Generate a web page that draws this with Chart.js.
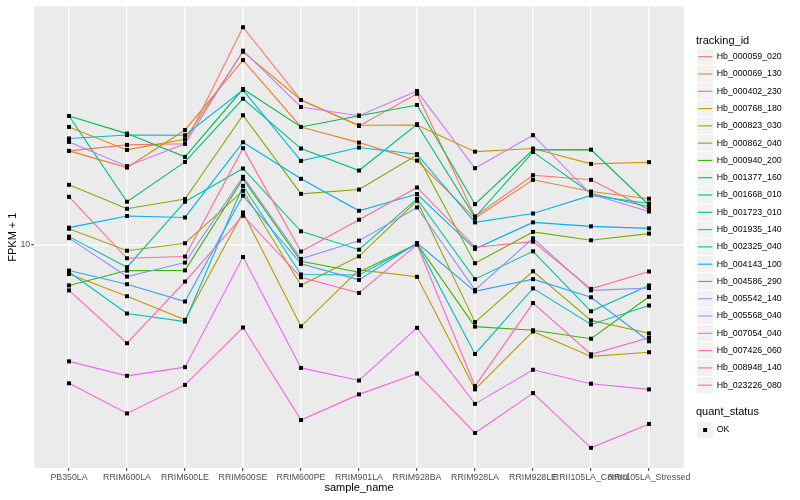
<!DOCTYPE html>
<html>
<head>
<meta charset="utf-8">
<script src="https://cdn.jsdelivr.net/npm/chart.js@4.4.1/dist/chart.umd.min.js"></script>
<style>
    html, body { margin: 0; padding: 0; background: #ffffff; }
    canvas { display: block; }
</style>
</head>
<body>
<canvas id="fpkmChart" width="800" height="500"></canvas>
<script>
var sample_names = ['PB350LA', 'RRIM600LA', 'RRIM600LE', 'RRIM600SE', 'RRIM600PE', 'RRIM901LA',
    'RRIM928BA', 'RRIM928LA', 'RRIM928LE', 'RRII105LA_Control', 'RRII105LA_Stressed'];

var tracking_ids = ['Hb_000059_020', 'Hb_000069_130', 'Hb_000402_230', 'Hb_000768_180', 'Hb_000823_030',
    'Hb_000862_040', 'Hb_000940_200', 'Hb_001377_160', 'Hb_001668_010', 'Hb_001723_010',
    'Hb_001935_140', 'Hb_002325_040', 'Hb_004143_100', 'Hb_004586_290', 'Hb_005542_140',
    'Hb_005568_040', 'Hb_007054_040', 'Hb_007426_060', 'Hb_008948_140', 'Hb_023226_080'];

var hue_colors = ['#F8766D', '#EA8331', '#D89000', '#C09B00', '#A3A500', '#7CAE00', '#39B600', '#00BB4E',
    '#00BF7D', '#00C1A3', '#00BFC4', '#00BAE0', '#00B0F6', '#35A2FF', '#9590FF', '#C77CFF',
    '#E76BF3', '#FA62DB', '#FF62BC', '#FF6C91'];

// FPKM + 1 per tracking_id, same order as sample_names
var hb_000059_020 = [16.00, 16.49, 16.59, 29.74, 20.65, 18.13, 21.31, 11.52, 14.16, 13.84, 11.91];
var hb_000069_130 = [16.00, 14.72, 17.77, 25.22, 18.04, 16.68, 15.24, 11.41, 13.84, 13.05, 12.59];
var hb_000402_230 = [18.04, 16.08, 16.96, 26.31, 20.65, 18.19, 18.22, 15.94, 16.19, 14.99, 15.12];
var hb_000768_180 = [8.63, 7.72, 6.86, 11.75, 6.64, 8.81, 8.51, 4.84, 6.47, 5.71, 5.83];
var hb_000823_030 = [10.83, 9.70, 10.07, 13.10, 8.16, 9.43, 12.46, 6.78, 8.75, 6.84, 6.41];
var hb_000862_040 = [13.50, 11.97, 12.57, 19.13, 12.90, 13.18, 15.68, 9.11, 10.66, 10.22, 10.57];
var hb_000940_200 = [8.15, 8.78, 8.79, 13.91, 9.20, 8.71, 10.05, 6.63, 6.51, 6.24, 7.70];
var hb_001377_160 = [19.06, 17.45, 15.53, 21.82, 18.04, 19.09, 20.14, 12.25, 16.08, 16.10, 12.20];
var hb_001668_010 = [19.06, 12.40, 15.14, 20.78, 16.19, 14.50, 18.29, 11.47, 15.92, 12.92, 12.09];
var hb_001723_010 = [10.41, 8.93, 12.40, 14.65, 10.69, 9.75, 12.59, 8.41, 9.67, 7.16, 8.15];
var hb_001935_140 = [8.72, 7.08, 6.80, 13.43, 8.61, 8.59, 10.03, 5.78, 8.03, 6.70, 7.37];
var hb_002325_040 = [17.03, 17.33, 17.31, 21.71, 15.22, 16.27, 15.74, 11.18, 11.69, 12.80, 12.29];
var hb_004143_100 = [10.89, 11.54, 11.46, 16.71, 13.91, 11.85, 12.89, 9.79, 11.18, 10.96, 10.85];
var hb_004586_290 = [8.78, 8.20, 7.52, 12.78, 9.08, 8.38, 10.08, 7.91, 8.41, 7.68, 6.16];
var hb_005542_140 = [10.33, 8.52, 9.14, 14.05, 9.31, 10.20, 12.05, 7.97, 10.32, 7.95, 8.04];
var hb_005568_040 = [16.74, 14.82, 16.59, 26.45, 19.94, 19.09, 21.60, 14.67, 17.31, 12.87, 11.81];
var hb_007054_040 = [5.57, 5.18, 5.41, 9.40, 5.39, 5.06, 6.59, 4.50, 5.34, 4.98, 4.84];
var hb_007426_060 = [4.99, 4.29, 4.95, 6.60, 4.15, 4.72, 5.24, 3.89, 4.75, 3.61, 4.07];
var hb_008948_140 = [7.95, 6.10, 8.31, 11.56, 8.49, 7.85, 10.00, 4.92, 7.46, 5.77, 6.27];
var hb_023226_080 = [12.71, 9.34, 9.42, 16.22, 9.66, 11.33, 13.32, 9.87, 10.15, 8.01, 8.74];

var series_values = [hb_000059_020, hb_000069_130, hb_000402_230, hb_000768_180, hb_000823_030,
    hb_000862_040, hb_000940_200, hb_001377_160, hb_001668_010, hb_001723_010,
    hb_001935_140, hb_002325_040, hb_004143_100, hb_004586_290, hb_005542_140,
    hb_005568_040, hb_007054_040, hb_007426_060, hb_008948_140, hb_023226_080];

var y_ticks = [10];
var y_min = 3.263;
var y_max = 33.04;

var quant_status = ['OK'];

var FONT = '"Liberation Sans", Arial, Helvetica, sans-serif';

function buildDatasets()
{
    var n = tracking_ids.length;
    return tracking_ids.map(function(id, i){
        return {
            label: id,
            data: series_values[i].map(function(v, j){ return {x: j, y: v}; }),
            borderColor: hue_colors[i],
            backgroundColor: hue_colors[i],
            borderWidth: 1.1,
            pointRadius: 0,
            pointHoverRadius: 0,
            tension: 0,
            fill: false,
            order: n - i
        };
    });
}

// grey panel + white page
var panelPlugin = {
    id: 'panel',
    beforeDraw: function(chart){
        var ctx = chart.ctx, a = chart.chartArea;
        ctx.save();
        ctx.fillStyle = '#FFFFFF';
        ctx.fillRect(0, 0, chart.width, chart.height);
        ctx.fillStyle = '#EBEBEB';
        ctx.fillRect(a.left, a.top, a.right - a.left, a.bottom - a.top);
        ctx.restore();
    }
};

// black square markers drawn above all lines
var pointsPlugin = {
    id: 'squares',
    afterDatasetsDraw: function(chart){
        var ctx = chart.ctx;
        ctx.save();
        ctx.fillStyle = '#000000';
        chart.data.datasets.forEach(function(ds, i){
            var meta = chart.getDatasetMeta(i);
            meta.data.forEach(function(pt){
                ctx.fillRect(pt.x - 2, pt.y - 2, 4, 4);
            });
        });
        ctx.restore();
    }
};

var legendPlugin = {
    id: 'sideLegend',
    afterDraw: function(chart){
        var ctx = chart.ctx;
        var key = 17.29;
        var keyX = 696.5;
        var textX = 716.7;
        ctx.save();
        ctx.textAlign = 'left';
        ctx.textBaseline = 'middle';
        ctx.fillStyle = '#000000';
        ctx.font = '11px ' + FONT;
        ctx.fillText('tracking_id', 696, 40.5);

        chart.data.datasets.forEach(function(ds, i){
            var cy = 56.7 + i * key;
            ctx.fillStyle = '#F2F2F2';
            ctx.fillRect(keyX + 0.5, cy - key / 2 + 0.5, key - 1, key - 1);
            ctx.strokeStyle = ds.borderColor;
            ctx.lineWidth = 1.1;
            ctx.beginPath();
            ctx.moveTo(keyX + 1.5, cy);
            ctx.lineTo(keyX + key - 1.5, cy);
            ctx.stroke();
            ctx.fillStyle = '#000000';
            ctx.font = '8.8px ' + FONT;
            ctx.fillText(ds.label, textX, cy);
        });

        ctx.font = '11px ' + FONT;
        ctx.fillText('quant_status', 696, 412.3);
        quant_status.forEach(function(s, i){
            var cy = 430 + i * key;
            ctx.fillStyle = '#F2F2F2';
            ctx.fillRect(keyX + 0.5, cy - key / 2 + 0.5, key - 1, key - 1);
            ctx.fillStyle = '#000000';
            ctx.fillRect(keyX + key / 2 - 2, cy - 2, 4, 4);
            ctx.font = '8.8px ' + FONT;
            ctx.fillText(s, textX, cy);
        });
        ctx.restore();
    }
};

var gridOpts = {
    color: '#FFFFFF',
    lineWidth: 1.4,
    drawTicks: true,
    tickColor: '#333333',
    tickLength: 3,
    tickWidth: 1
};

var chart = new Chart(document.getElementById('fpkmChart'), {
    type: 'line',
    data: { datasets: buildDatasets() },
    plugins: [panelPlugin, pointsPlugin, legendPlugin],
    options: {
        responsive: false,
        animation: false,
        devicePixelRatio: 1,
        layout: { padding: { top: 5, right: 116.2, bottom: 0, left: 0 } },
        plugins: {
            legend: { display: false },
            tooltip: { enabled: false }
        },
        scales: {
            x: {
                type: 'linear',
                min: -0.6,
                max: sample_names.length - 0.4,
                afterBuildTicks: function(s){
                    s.ticks = sample_names.map(function(n, i){ return {value: i}; });
                },
                afterFit: function(s){ s.height = 32; },
                grid: gridOpts,
                border: { display: false },
                ticks: {
                    autoSkip: false,
                    maxRotation: 0,
                    minRotation: 0,
                    padding: 1.5,
                    color: '#4D4D4D',
                    font: { family: FONT, size: 8.8 },
                    callback: function(v){ return sample_names[v]; }
                },
                title: {
                    display: true,
                    text: 'sample_name',
                    color: '#000000',
                    font: { family: FONT, size: 11 },
                    padding: { top: 0, bottom: 5.4 }
                }
            },
            y: {
                type: 'logarithmic',
                min: y_min,
                max: y_max,
                afterBuildTicks: function(s){
                    s.ticks = y_ticks.map(function(v){ return {value: v}; });
                },
                afterFit: function(s){ s.width = 34.2; },
                grid: gridOpts,
                border: { display: false },
                ticks: {
                    padding: 1,
                    color: '#4D4D4D',
                    font: { family: FONT, size: 8.8 },
                    callback: function(v){ return String(v); }
                },
                title: {
                    display: true,
                    text: 'FPKM + 1',
                    color: '#000000',
                    font: { family: FONT, size: 11 },
                    padding: { top: 6.4, bottom: 0 }
                }
            }
        }
    }
});
</script>
</body>
</html>
